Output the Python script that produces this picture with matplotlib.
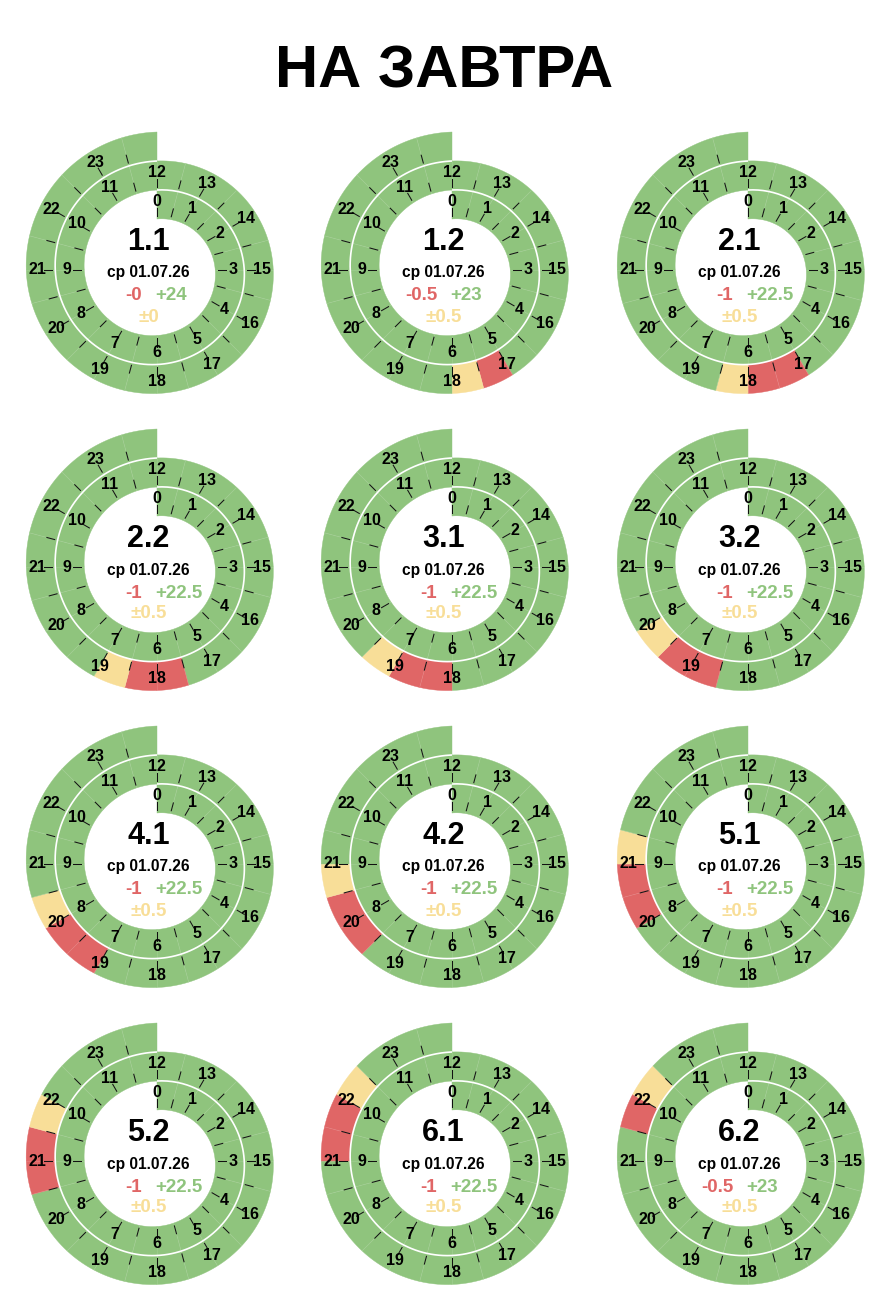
import numpy as np
import matplotlib
matplotlib.use("Agg")
import matplotlib.pyplot as plt
from matplotlib.patches import Polygon

# ---------------- data ----------------
title = "НА ЗАВТРА"
date_label = "ср 01.07.26"
panel_names = ["1.1", "1.2", "2.1", "2.2", "3.1", "3.2",
               "4.1", "4.2", "5.1", "5.2", "6.1", "6.2"]
# red (off) interval, hours
red_from = [0, 17.0, 17.0, 17.5, 18.0, 18.5, 19.0, 19.5, 20.0, 20.5, 21.0, 21.5]
red_to   = [0, 17.5, 18.0, 18.5, 19.0, 19.5, 20.0, 20.5, 21.0, 21.5, 22.0, 22.0]
# yellow (maybe) interval, hours
yellow_from = [0, 17.5, 18.0, 18.5, 19.0, 19.5, 20.0, 20.5, 21.0, 21.5, 22.0, 22.0]
yellow_to   = [0, 18.0, 18.5, 19.0, 19.5, 20.0, 20.5, 21.0, 21.5, 22.0, 22.5, 22.5]
hour_labels = [str(h) for h in range(24)]

GREEN = "#8fc47d"
RED = "#e06666"
YELLOW = "#f8de98"

# ---------------- layout ----------------
W_PX, H_PX = 888, 1300
col_x = [157, 452, 748]
row_y = [270, 567, 864, 1161]
R0 = 51.0     # inner radius at 0h
BW = 29.0     # band width (spiral step per turn)
FONT = "Liberation Sans"

fig = plt.figure(figsize=(W_PX / 100, H_PX / 100), dpi=100)
ax = fig.add_axes([0, 0, 1, 1])
ax.set_xlim(0, W_PX)
ax.set_ylim(H_PX, 0)
ax.axis("off")


def rin(theta):
    return R0 + BW * theta / 360.0


def pt(cx, cy, r, theta):
    t = np.radians(theta)
    return cx + r * np.sin(t), cy - r * np.cos(t)


def slot_state(i, h):
    mid = h + 0.25
    if red_from[i] <= mid < red_to[i]:
        return RED
    if yellow_from[i] <= mid < yellow_to[i]:
        return YELLOW
    return GREEN


ax.text(W_PX / 2, 72, title, ha="center", va="center", fontsize=43,
        fontweight="bold", family=FONT, color="black")

for i, name in enumerate(panel_names):
    cx = col_x[i % 3]
    cy = row_y[i // 3]
    # half-hour segments (30 degrees per hour)
    for k in range(48):
        h = k * 0.5
        a, b = h * 30.0, (h + 0.5) * 30.0
        th = np.linspace(a, b, 10)
        xo, yo = pt(cx, cy, rin(th) + BW, th)
        xi, yi = pt(cx, cy, rin(th[::-1]), th[::-1])
        poly = np.column_stack([np.r_[xo, xi], np.r_[yo, yi]])
        col = slot_state(i, h)
        ax.add_patch(Polygon(poly, closed=True, facecolor=col, edgecolor=col,
                             lw=0.3, zorder=1))
    # faint separators
    for k in range(1, 48):
        th = k * 15.0
        x1, y1 = pt(cx, cy, rin(th), th)
        x2, y2 = pt(cx, cy, rin(th) + BW, th)
        ax.plot([x1, x2], [y1, y2], color="white", alpha=0.15, lw=0.5, zorder=2)
    # white spiral line between turns
    th = np.linspace(0, 360, 300)
    xs, ys = pt(cx, cy, rin(th) + BW, th)
    ax.plot(xs, ys, color="white", lw=1.2, zorder=3, solid_capstyle="butt")
    # ticks every half hour
    for k in range(48):
        th = k * 15.0
        x1, y1 = pt(cx, cy, rin(th) + 0.1 * BW, th)
        x2, y2 = pt(cx, cy, rin(th) + 0.38 * BW, th)
        ax.plot([x1, x2], [y1, y2], color="#111111", lw=0.75, zorder=4)
    # hour labels
    for h in range(24):
        th = h * 30.0
        x, y = pt(cx, cy, rin(th) + 0.6 * BW, th)
        ax.text(x, y, hour_labels[h], ha="center", va="center", fontsize=11.5,
                fontweight="bold", family=FONT, color="black", zorder=5)
    # center texts
    red_v = red_to[i] - red_from[i]
    yel_v = yellow_to[i] - yellow_from[i]
    grn_v = 24 - red_v - yel_v
    tx = cx - 8.5
    ax.text(tx, cy - 28, name, ha="center", va="center", fontsize=22,
            fontweight="bold", family=FONT, color="black", zorder=6)
    ax.text(tx, cy + 3, date_label, ha="center", va="center", fontsize=11.2,
            fontweight="bold", family=FONT, color="black", zorder=6)
    ax.text(tx - 6.5, cy + 26, f"-{red_v:g}", ha="right", va="center",
            fontsize=13.5, fontweight="bold", family=FONT, color=RED, zorder=6)
    ax.text(tx + 6.5, cy + 26, f"+{grn_v:g}", ha="left", va="center",
            fontsize=13.5, fontweight="bold", family=FONT, color=GREEN, zorder=6)
    ax.text(tx, cy + 47, f"±{yel_v:g}", ha="center", va="center",
            fontsize=13.5, fontweight="bold", family=FONT, color=YELLOW, zorder=6)

fig.savefig("out.png", dpi=100, facecolor="white")
